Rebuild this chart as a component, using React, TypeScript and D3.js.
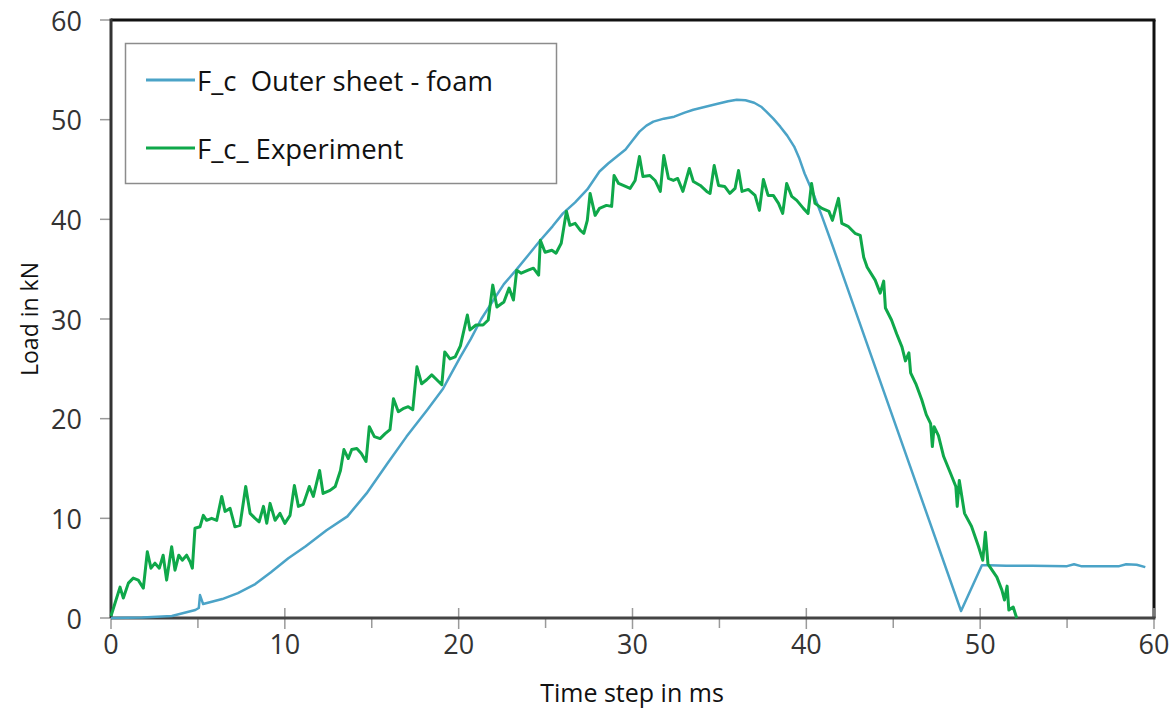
import React from "react";
import * as d3 from "d3";

const xTicks = [0, 10, 20, 30, 40, 50, 60];
const xMinorTicks = [5, 15, 25, 35, 45, 55];
const yTicks = [0, 10, 20, 30, 40, 50, 60];
const seriesNames = ["F_c  Outer sheet - foam", "F_c_ Experiment"];
const xTitle = "Time step in ms";
const yTitle = "Load in kN";

// F_c Outer sheet - foam (simulation): [time ms, load kN]
const simPoints: [number, number][] = [
  [0, 0], [1.8, 0.05], [3.5, 0.2], [4.85, 0.8], [5.05, 1.0], [5.12, 2.3], [5.3, 1.4],
  [6.4, 1.9], [7.3, 2.5], [8.3, 3.4], [9.2, 4.6], [10.2, 6.0], [11.2, 7.2], [12.4, 8.8],
  [13.6, 10.2], [14.7, 12.5], [15.9, 15.5], [17.0, 18.2], [18.2, 20.9], [19.1, 23.0],
  [19.5, 24.3], [20.1, 26.2], [20.7, 28.0], [21.3, 30.0], [22.0, 31.9], [22.6, 33.5],
  [23.3, 34.9], [24.0, 36.4], [24.7, 37.9], [25.4, 39.3], [26.0, 40.6], [26.7, 41.7],
  [27.4, 43.0], [28.1, 44.8], [28.6, 45.6], [29.1, 46.3], [29.6, 47.0], [30.0, 47.9],
  [30.4, 48.8], [30.8, 49.4], [31.2, 49.8], [31.8, 50.1], [32.4, 50.3], [33.0, 50.7],
  [33.5, 51.0], [34.2, 51.3], [34.9, 51.6], [35.5, 51.85], [36.0, 52.0], [36.5, 51.95],
  [37.0, 51.7], [37.4, 51.3], [37.7, 50.8], [38.1, 50.1], [38.5, 49.3], [38.9, 48.4],
  [39.3, 47.3], [39.6, 46.1], [39.9, 44.6], [40.4, 42.6], [40.9, 40.3], [41.5, 37.4],
  [42.0, 34.9], [48.9, 0.7], [50.1, 5.3], [50.5, 5.3], [51.5, 5.25], [53.0, 5.25],
  [55.0, 5.2], [55.4, 5.4], [55.8, 5.2], [58.0, 5.2], [58.4, 5.4], [59.0, 5.35], [59.5, 5.1],
];

// F_c_ Experiment: [time ms, load kN]
const expPoints: [number, number][] = [
  [0, 0.2], [0.52, 3.1], [0.71, 2.0], [1.0, 3.5], [1.28, 4.0], [1.57, 3.8], [1.86, 3.0],
  [2.09, 6.65], [2.3, 5.0], [2.53, 5.5], [2.78, 5.0], [3.0, 6.3], [3.2, 3.8], [3.49, 7.15],
  [3.68, 4.8], [3.9, 6.3], [4.1, 5.8], [4.35, 6.3], [4.55, 5.65], [4.68, 5.0], [4.83, 9.0],
  [5.12, 9.15], [5.31, 10.3], [5.5, 9.8], [5.79, 10.0], [6.08, 9.8], [6.37, 12.2],
  [6.56, 10.7], [6.85, 11.0], [7.13, 9.15], [7.42, 9.3], [7.75, 13.2], [8.0, 10.5],
  [8.29, 10.0], [8.52, 9.65], [8.77, 11.2], [8.96, 9.5], [9.15, 11.5], [9.44, 9.8],
  [9.72, 10.5], [10.0, 9.5], [10.3, 10.3], [10.55, 13.3], [10.78, 11.2], [11.06, 11.4],
  [11.41, 13.2], [11.64, 12.2], [12.0, 14.8], [12.2, 12.5], [12.6, 12.8], [12.9, 13.2],
  [13.2, 14.8], [13.4, 16.9], [13.65, 16.0], [13.85, 16.9], [14.14, 17.0], [14.4, 16.5],
  [14.67, 15.7], [14.86, 19.2], [15.15, 18.2], [15.48, 18.0], [15.77, 18.5], [16.05, 18.9],
  [16.25, 22.0], [16.53, 20.7], [16.8, 21.0], [17.1, 21.2], [17.36, 20.9], [17.6, 25.2],
  [17.87, 23.5], [18.16, 23.9], [18.45, 24.4], [18.74, 23.9], [19.03, 23.4], [19.2, 26.7],
  [19.5, 26.0], [19.8, 26.2], [20.1, 27.3], [20.5, 30.4], [20.65, 28.9], [21.0, 29.4],
  [21.4, 29.4], [21.7, 29.9], [21.96, 33.4], [22.2, 31.2], [22.6, 31.7], [22.9, 33.1],
  [23.15, 31.9], [23.34, 34.9], [23.6, 34.6], [24.0, 34.9], [24.3, 35.1], [24.6, 34.4],
  [24.7, 37.9], [24.97, 36.7], [25.36, 36.9], [25.6, 36.6], [25.9, 37.6], [26.2, 40.8],
  [26.4, 39.4], [26.7, 39.6], [27.0, 38.9], [27.2, 38.6], [27.4, 39.9], [27.56, 42.6],
  [27.85, 40.4], [28.1, 41.1], [28.5, 41.4], [28.8, 41.3], [28.94, 44.4], [29.2, 43.6],
  [29.6, 43.3], [29.86, 43.1], [30.15, 43.9], [30.4, 46.3], [30.6, 44.3], [31.0, 44.4],
  [31.3, 43.9], [31.6, 42.8], [31.8, 46.4], [32.07, 44.1], [32.35, 43.9], [32.6, 44.1],
  [32.9, 42.8], [33.27, 45.1], [33.5, 43.8], [33.9, 43.4], [34.27, 42.8], [34.46, 42.6],
  [34.7, 45.4], [34.95, 43.4], [35.3, 43.3], [35.6, 42.6], [35.9, 43.1], [36.1, 44.9],
  [36.3, 42.8], [36.66, 43.0], [37.05, 42.4], [37.3, 40.9], [37.53, 44.0], [37.8, 42.4],
  [38.1, 42.4], [38.4, 41.6], [38.64, 40.6], [38.87, 43.6], [39.16, 42.3], [39.45, 41.9],
  [39.83, 41.1], [40.1, 40.6], [40.3, 43.6], [40.5, 41.6], [40.9, 41.1], [41.3, 40.8],
  [41.5, 39.9], [41.85, 42.1], [42.04, 39.6], [42.4, 39.3], [42.8, 38.6], [43.1, 38.4],
  [43.3, 36.2], [43.5, 35.2], [43.96, 33.9], [44.25, 32.6], [44.45, 33.8], [44.55, 31.1],
  [44.9, 29.9], [45.2, 28.5], [45.5, 27.2], [45.7, 25.8], [45.9, 26.6], [46.0, 24.6],
  [46.3, 23.5], [46.64, 21.9], [46.9, 20.4], [47.15, 19.5], [47.25, 17.2], [47.35, 19.2],
  [47.6, 18.3], [47.9, 16.2], [48.3, 14.5], [48.6, 13.2], [48.68, 11.2], [48.8, 13.8],
  [49.1, 10.5], [49.5, 9.2], [49.9, 7.2], [50.15, 5.8], [50.3, 8.6], [50.45, 5.4],
  [50.96, 4.1], [51.25, 2.8], [51.4, 1.8], [51.55, 3.2], [51.65, 0.8], [51.9, 1.1],
  [52.1, 0],
];

const W = 1173;
const H = 712;
const FONT = "'Open Sans', 'DejaVu Sans', sans-serif";
const BLUE = "#4BA3C7";
const GREEN = "#0FA84A";

export default function App() {
  const x = d3.scaleLinear().domain([0, 60]).range([111, 1154]);
  const y = d3.scaleLinear().domain([0, 60]).range([618, 20]);

  const line = d3
    .line<[number, number]>()
    .x((d) => x(d[0]))
    .y((d) => y(d[1]));

  const x0 = x(0);
  const x1 = x(60);
  const y0 = y(0);
  const y1 = y(60);

  return (
    <svg
      width={W}
      height={H}
      style={{ position: "absolute", left: 0, top: 0, background: "#fff" }}
      fontFamily={FONT}
    >
      <rect x={0} y={0} width={W} height={H} fill="#fff" />

      {/* frame top & right */}
      <line x1={x0} x2={x1 + 1.5} y1={y1} y2={y1} stroke="#111" strokeWidth={3} />
      <line x1={x1} x2={x1} y1={y1} y2={y0} stroke="#111" strokeWidth={3} />

      {/* y ticks */}
      {yTicks.map((t) => (
        <g key={"yt" + t}>
          <line x1={x0 - 11} x2={x0} y1={y(t)} y2={y(t)} stroke="#9a9a9a" strokeWidth={1.5} />
          <text
            x={82}
            y={y(t)}
            textAnchor="end"
            dominantBaseline="central"
            fontSize={27}
            fill="#333"
          >
            {t}
          </text>
        </g>
      ))}

      {/* x ticks */}
      {xTicks.map((t) => (
        <g key={"xt" + t}>
          <line x1={x(t)} x2={x(t)} y1={y0 - 10} y2={y0 + 11} stroke="#9a9a9a" strokeWidth={1.5} />
          <text x={x(t)} y={y0 + 25} textAnchor="middle" dominantBaseline="central" fontSize={27} fill="#333">
            {t}
          </text>
        </g>
      ))}
      {xMinorTicks.map((t) => (
        <line key={"xm" + t} x1={x(t)} x2={x(t)} y1={y0} y2={y0 + 10} stroke="#9a9a9a" strokeWidth={1.5} />
      ))}

      {/* axes */}
      <line x1={x0} x2={x0} y1={y1 - 1.5} y2={y0} stroke="#333" strokeWidth={3} />
      <line x1={x0} x2={x1 + 1.5} y1={y0} y2={y0} stroke="#444" strokeWidth={3} />

      {/* series */}
      <path d={line(simPoints) || ""} fill="none" stroke={BLUE} strokeWidth={2.5} strokeLinejoin="round" />
      <path d={line(expPoints) || ""} fill="none" stroke={GREEN} strokeWidth={3} strokeLinejoin="round" />

      {/* axis titles */}
      <text x={632} y={692} textAnchor="middle" dominantBaseline="central" fontSize={25} fill="#111">
        {xTitle}
      </text>
      <text
        transform={`translate(29, ${(y0 + y1) / 2}) rotate(-90)`}
        textAnchor="middle"
        dominantBaseline="central"
        fontSize={23}
        fill="#111"
      >
        {yTitle}
      </text>

      {/* legend */}
      <rect x={125.5} y={43.5} width={431} height={140} fill="#fff" stroke="#8c8c8c" strokeWidth={1.5} />
      <line x1={146} x2={195} y1={80} y2={80} stroke={BLUE} strokeWidth={3} />
      <line x1={146} x2={195} y1={148} y2={148} stroke={GREEN} strokeWidth={3} />
      <text x={197} y={80} dominantBaseline="central" fontSize={27.5} fill="#111" style={{ whiteSpace: "pre" }}>
        {seriesNames[0]}
      </text>
      <text x={197} y={148} dominantBaseline="central" fontSize={27.5} fill="#111" style={{ whiteSpace: "pre" }}>
        {seriesNames[1]}
      </text>
    </svg>
  );
}
